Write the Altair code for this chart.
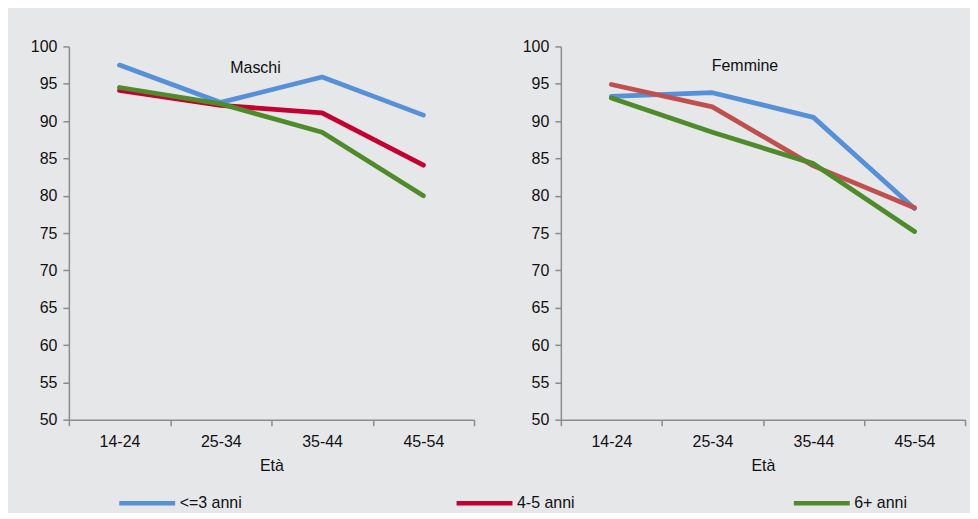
import altair as alt
import pandas as pd

ages = ["14-24", "25-34", "35-44", "45-54"]
series = ["<=3 anni", "4-5 anni", "6+ anni"]

maschi_le3 = [97.5, 92.5, 95.9, 90.8]
maschi_45 = [94.1, 92.1, 91.1, 84.1]
maschi_6p = [94.5, 92.3, 88.5, 80.0]

femmine_le3 = [93.3, 93.8, 90.5, 78.3]
femmine_45 = [94.9, 91.9, 84.0, 78.4]
femmine_6p = [93.1, 88.5, 84.3, 75.2]

color_keys = ["<=3 anni", "4-5 anni", "6+ anni", "4-5 anni F"]
color_range = ["#5590D8", "#C3002F", "#4F8A2B", "#C0504D"]

FONT = "Liberation Sans"
BG = "#E6E7E9"
AX = "#8C8C8C"


def make_df(vals_list, female):
    rows = []
    for s, vals in zip(series, vals_list):
        key = s
        if female and s == "4-5 anni":
            key = "4-5 anni F"
        for a, v in zip(ages, vals):
            rows.append({"Età": a, "Serie": s, "Key": key, "Valore": v})
    return pd.DataFrame(rows)


df_m = make_df([maschi_le3, maschi_45, maschi_6p], False)
df_f = make_df([femmine_le3, femmine_45, femmine_6p], True)

legend = alt.Legend(
    values=series,
    title=None,
    orient="none",
    direction="horizontal",
    legendX=48,
    legendY=427,
    symbolType="stroke",
    symbolSize=3136,
    symbolStrokeWidth=4.5,
    labelFont=FONT,
    labelFontSize=16,
    labelColor="#111111",
    labelOffset=2,
    columnPadding=205,
    gridAlign="all",
)


def panel(df, title, dx, off, w):
    return (
        alt.Chart(df)
        .mark_line(strokeWidth=4.8, strokeCap="round", strokeJoin="round")
        .encode(
            x=alt.X(
                "Età:N",
                sort=ages,
                scale=alt.Scale(type="band", paddingInner=0, paddingOuter=0),
                axis=alt.Axis(
                    title="Età",
                    labelAngle=0,
                    tickBand="extent",
                    labelPadding=8,
                    titlePadding=8,
                ),
            ),
            y=alt.Y(
                "Valore:Q",
                scale=alt.Scale(domain=[50, 100], nice=False, zero=False),
                axis=alt.Axis(
                    title=None,
                    values=list(range(50, 101, 5)),
                    grid=False,
                    labelPadding=6,
                ),
            ),
            color=alt.Color(
                "Key:N",
                scale=alt.Scale(domain=color_keys, range=color_range),
                legend=legend,
            ),
            detail="Serie:N",
        )
        .properties(
            width=w,
            height=374,
            title=alt.TitleParams(
                title,
                offset=off,
                dx=dx,
                anchor="middle",
                font=FONT,
                fontSize=16,
                fontWeight="normal",
                color="#111111",
            ),
        )
    )


left = panel(df_m, "Maschi", -16, -38, 406)
right = panel(df_f, "Femmine", -18, -36, 405)

chart = (
    alt.hconcat(left, right, spacing=47)
    .properties(
        background=BG,
        padding={"left": 22, "top": 30, "right": 4, "bottom": 0},
    )
    .configure_view(stroke=None)
    .configure_axis(
        labelFont=FONT,
        labelFontSize=16,
        labelColor="#111111",
        titleFont=FONT,
        titleFontSize=16,
        titleFontWeight="normal",
        titleColor="#111111",
        domainColor=AX,
        domainWidth=1.5,
        tickColor=AX,
        tickWidth=1.5,
        tickSize=6,
    )
)

chart.save("out.html", embed_options={"renderer": "svg", "actions": False})
